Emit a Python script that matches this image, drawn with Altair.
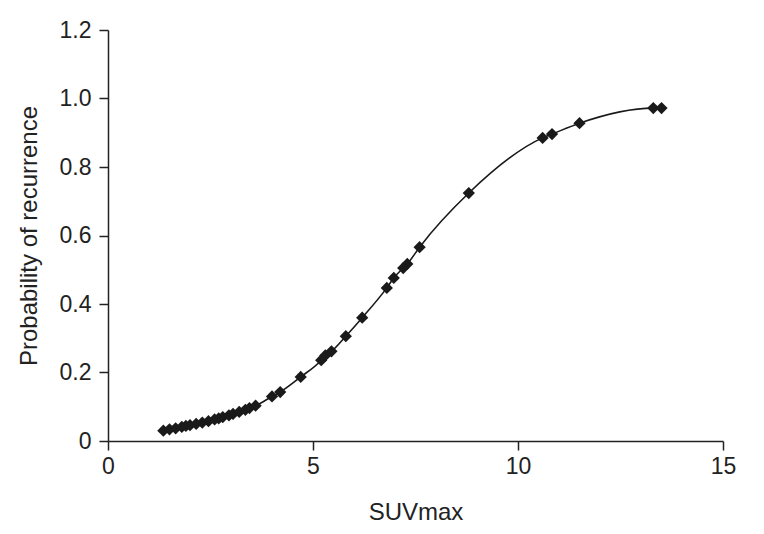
import altair as alt
import pandas as pd

suv = [1.35, 1.5, 1.65, 1.8, 1.9, 2.0, 2.15, 2.3, 2.45, 2.6, 2.7, 2.8, 2.95, 3.05,
       3.2, 3.35, 3.45, 3.6, 4.0, 4.2, 4.7, 5.2, 5.3, 5.45, 5.8, 6.2, 6.8, 6.97,
       7.2, 7.3, 7.6, 8.8, 10.6, 10.83, 11.5, 13.3, 13.5]
prob = [0.030, 0.034, 0.037, 0.041, 0.044, 0.046, 0.050, 0.054, 0.058, 0.063,
        0.066, 0.070, 0.075, 0.079, 0.085, 0.091, 0.096, 0.103, 0.130, 0.143,
        0.187, 0.236, 0.250, 0.262, 0.306, 0.360, 0.447, 0.476, 0.505, 0.517,
        0.566, 0.724, 0.885, 0.896, 0.928, 0.972, 0.972]

df = pd.DataFrame({"SUVmax": suv, "p": prob})

axis_style = dict(grid=False, labelFont="Liberation Sans", titleFont="Liberation Sans",
                  labelFontSize=23, titleFontSize=24, labelColor="#222",
                  titleColor="#222", titleFontWeight="normal", domainColor="#222",
                  tickColor="#222", domainWidth=1.5, tickWidth=1.5, tickSize=9,
                  labelFlush=False)

x = alt.X("SUVmax:Q", scale=alt.Scale(domain=[0, 15], nice=False),
          axis=alt.Axis(title="SUVmax", values=[0, 5, 10, 15], labelPadding=5,
                        titlePadding=22, **axis_style))
y = alt.Y("p:Q", scale=alt.Scale(domain=[0, 1.2], nice=False),
          axis=alt.Axis(title="Probability of recurrence",
                        values=[0, 0.2, 0.4, 0.6, 0.8, 1.0, 1.2], labelPadding=8,
                        labelExpr="datum.value == 0 ? '0' : format(datum.value, '.1f')",
                        titlePadding=18, **axis_style))

line = alt.Chart(df).mark_line(color="#1a1a1a", strokeWidth=1.6,
                               interpolate="monotone").encode(x=x, y=y)
pts = alt.Chart(df).mark_point(shape="diamond", filled=True, color="#1a1a1a",
                               size=150, opacity=1).encode(x=x, y=y)

chart = (line + pts).properties(
    width=615, height=411,
    autosize=alt.AutoSizeParams(type="none"),
    padding={"left": 100, "top": 22, "right": 33, "bottom": 85},
    background="white",
).configure_view(stroke=None)

chart.save("out.html", embed_options={"renderer": "svg", "actions": False})
